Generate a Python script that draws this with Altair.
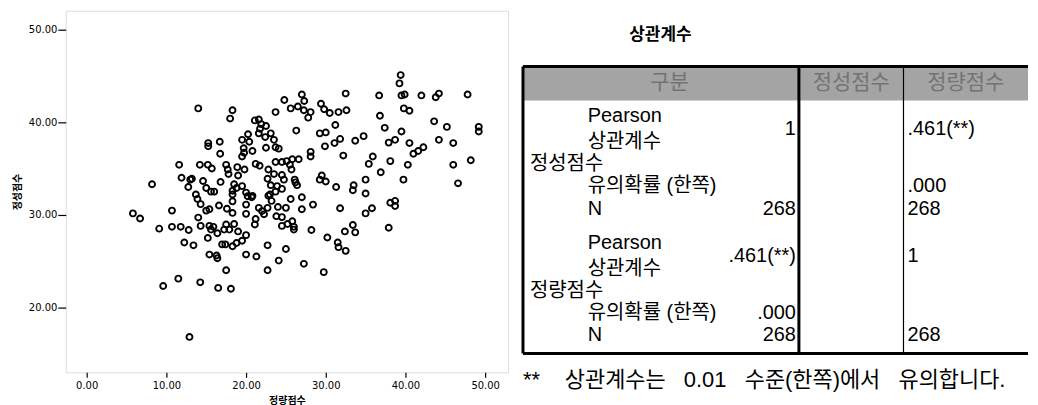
import altair as alt
import pandas as pd

# ---------------- scatter data ----------------
quant_x = [39.4, 39.25, 39.5, 39.9, 36.7, 42.0, 43.8, 44.2, 47.8, 32.5, 27.0, 24.8, 27.3, 25.6, 26.5, 27.25, 28.1, 27.8,
           23.7, 29.4, 29.8, 30.5, 31.6, 32.6, 36.8, 39.8, 40.5, 43.6, 45.2, 49.2, 49.2, 14.0, 18.3, 18.0, 21.1, 21.6,
           21.9, 22.5, 21.75, 31.2, 26.3, 37.4, 39.5, 29.25, 30.0, 21.6, 23.1, 20.25, 22.4, 23.5, 19.5, 20.4, 31.1,
           31.8, 33.7, 34.75, 37.9, 38.7, 40.5, 44.2, 46.0, 15.25, 15.25, 16.7, 29.9, 22.5, 23.7, 24.1, 19.7, 20.8,
           19.75, 19.5, 16.75, 28.1, 28.1, 42.25, 41.6, 41.0, 32.2, 35.9, 35.4, 38.1, 40.3, 46.0, 48.2, 36.9, 39.75,
           46.6, 25.1, 25.8, 26.6, 23.7, 24.5, 25.5, 25.7, 21.2, 21.7, 22.8, 11.6, 14.2, 15.2, 15.7, 17.5, 17.7, 18.9,
           19.8, 19.0, 17.8, 11.9, 13.0, 13.2, 14.6, 16.8, 15.0, 15.6, 16.0, 8.2, 12.75, 13.7, 13.9, 18.5, 18.8, 18.3,
           19.5, 20.0, 20.8, 22.7, 23.5, 24.5, 24.75, 23.1, 23.9, 24.5, 23.0, 23.7, 26.1, 26.2, 26.4, 29.5, 29.25,
           30.0, 31.3, 33.5, 33.4, 35.0, 35.0, 25.6, 27.0, 38.7, 38.1,
           14.3, 18.3, 20.2, 20.7, 20.0, 18.3, 22.8, 23.2, 16.6, 17.6, 18.3, 15.4, 15.0, 20.0, 21.2, 21.1, 21.6, 22.0,
           22.25, 22.7, 24.0, 25.0, 23.8, 24.5, 25.8, 24.5, 25.2, 26.0, 26.0, 27.0, 28.4, 31.8, 35.8, 35.0, 38.7,
           5.8, 6.7, 10.7, 9.1, 10.7, 11.8, 12.8, 14.0, 14.3, 15.4, 15.9, 15.6, 16.4, 15.2, 17.5, 18.5, 17.25, 17.9,
           19.0, 20.0, 19.5, 18.8, 18.3, 17.0, 17.4, 12.25, 13.4, 15.4, 16.3, 16.4, 20.0, 21.3, 22.7, 25.0, 24.1,
           22.7, 27.25, 29.75, 28.2, 30.2, 31.5, 31.6, 32.5, 32.4, 33.4, 33.7, 37.9, 17.5, 11.5, 9.6, 14.25, 16.5,
           18.1, 12.9]
qual_y = [45.1, 44.2, 42.9, 43.0, 42.9, 42.9, 42.7, 43.1, 43.0, 43.1, 43.0, 42.4, 42.3, 41.5, 41.7, 41.3, 41.1, 40.5,
          41.1, 42.0, 41.4, 41.0, 41.1, 41.3, 40.7, 41.5, 41.25, 40.1, 39.5, 39.5, 39.0, 41.5, 41.3, 40.4, 40.2, 40.3,
          39.8, 39.6, 39.3, 39.7, 39.1, 39.4, 39.0, 38.8, 38.9, 38.8, 38.8, 38.7, 38.4, 38.1, 38.1, 37.9, 37.75,
          38.2, 38.0, 38.5, 37.8, 38.1, 37.75, 38.1, 37.75, 37.75, 37.4, 37.9, 37.4, 37.25, 37.3, 37.15, 37.2, 36.9,
          36.7, 36.3, 36.6, 36.8, 36.3, 37.3, 36.9, 36.6, 36.4, 36.3, 35.5, 35.8, 35.4, 35.4, 35.9, 34.6, 33.8,
          33.4, 35.8, 36.0, 36.0, 35.7, 35.7, 35.4, 34.9, 35.5, 35.3, 34.9, 35.4, 35.4, 35.4, 35.0, 35.4, 34.9, 35.15,
          34.9, 34.25, 34.4, 34.0, 33.8, 33.9, 33.65, 33.55, 32.9, 32.5, 32.5, 33.3, 33.0, 32.2, 31.7, 33.3, 32.9, 32.6,
          33.1, 32.4, 32.05, 33.9, 34.4, 34.3, 33.8, 33.2, 33.1, 32.8, 32.2, 32.5, 33.8, 33.5, 33.2, 34.25, 33.8,
          33.6, 33.0, 33.2, 32.65, 33.8, 32.3, 31.7, 31.9, 31.5, 31.3,
          31.15, 32.2, 32.0, 31.9, 31.1, 31.45, 32.05, 31.5, 31.0, 30.65, 30.2, 30.6, 30.45, 30.1, 29.55, 28.95, 30.75, 30.4,
          30.05, 30.75, 30.85, 30.75, 29.85, 29.75, 29.3, 28.8, 29.0, 28.7, 28.4, 30.6, 31.1, 30.7, 30.7, 30.15, 30.95,
          30.15, 29.6, 30.45, 28.5, 28.7, 28.7, 28.35, 29.7, 28.8, 28.8, 28.7, 28.4, 28.0, 27.5, 28.95, 29.0, 28.4, 28.4,
          28.2, 27.8, 27.2, 26.95, 26.6, 26.8, 26.8, 27.0, 26.7, 25.7, 25.6, 25.3, 25.7, 25.5, 26.7, 26.3, 25.05,
          24.0, 24.7, 23.8, 28.35, 27.55, 27.0, 26.5, 26.1, 28.2, 28.9, 28.1, 28.6, 24.0, 23.1, 22.3, 22.7, 22.1,
          22.0, 16.8]
x_ticks = [0, 10, 20, 30, 40, 50]
y_ticks = [20, 30, 40, 50]
x_title = "정량점수"
y_title = "정성점수"

# ---------------- correlation table (text content) ----------------
table_title = "상관계수"
header_labels = ["구분", "정성점수", "정량점수"]
var_names = ["정성점수", "정량점수"]
stat_lines = ["Pearson", "상관계수", "유의확률 (한쪽)", "N"]
col_qual = ["1", "", "268", ".461(**)", ".000", "268"]
col_quant = [".461(**)", ".000", "268", "1", "", "268"]
footnote_mark = "**"
footnote_words = ["상관계수는", "0.01", "수준(한쪽)에서", "유의합니다."]

FONT = "Liberation Sans, Noto Sans CJK KR, sans-serif"
GAP = "\u00a0\u00a0 "   # the footnote's wide word gaps
footnote_text = GAP.join(footnote_words)

# ---------------- scatter ----------------
pts = pd.DataFrame({"qx": quant_x, "qy": qual_y})
scatter = alt.Chart(pts).mark_point(
    shape="circle", filled=False, color="black", size=36, strokeWidth=1.9, opacity=1
).encode(
    x=alt.X("qx:Q", scale=alt.Scale(domain=[-2.625, 52.875], nice=False, zero=False),
            axis=alt.Axis(values=x_ticks, format=".2f", title=x_title, grid=False, domain=False,
                          tickSize=5, tickColor="black", tickWidth=1.2, labelPadding=3,
                          labelFont="DejaVu Sans", labelFontSize=10, labelColor="black",
                          titleFont="Noto Sans CJK KR", titleFontSize=10, titleFontWeight="bold",
                          titleColor="black", titlePadding=5)),
    y=alt.Y("qy:Q", scale=alt.Scale(domain=[12.97, 52.05], nice=False, zero=False),
            axis=alt.Axis(values=y_ticks, format=".2f", title=y_title, grid=False, domain=False,
                          tickSize=8, tickColor="black", tickWidth=1.2, labelPadding=1,
                          labelFont="DejaVu Sans", labelFontSize=10, labelColor="black",
                          titleFont="Noto Sans CJK KR", titleFontSize=10, titleFontWeight="bold",
                          titleColor="black", titlePadding=6)),
).properties(width=444, height=363)

# ---------------- table layout (positions in panel units) ----------------
PW, PH = 515, 390
L, S1, S2, R = 8, 285, 390, 515
HT, HB = 56, 90
BLOCK = 127
label_x, stat_x, v1_right, v2_left = 15, 73, 282, 394
stat_off = [16, 42, 86, 109]
val_off = [29, 86, 109]
label_off = 64

X = alt.X("x:Q", scale=alt.Scale(domain=[0, PW], nice=False, zero=False), axis=None)
Y = alt.Y("y:Q", scale=alt.Scale(domain=[0, PH], nice=False, zero=False, reverse=True), axis=None)

left_rows, right_rows, center_rows, foot_rows = [], [], [], []
for b, name in enumerate(var_names):
    top = HB + b * BLOCK
    left_rows.append({"x": label_x, "y": top + label_off, "t": name})
    for k, s in enumerate(stat_lines):
        left_rows.append({"x": stat_x, "y": top + stat_off[k], "t": s})
    for k in range(3):
        right_rows.append({"x": v1_right, "y": top + val_off[k], "t": col_qual[b * 3 + k]})
        left_rows.append({"x": v2_left, "y": top + val_off[k], "t": col_quant[b * 3 + k]})
foot_rows.append({"x": L, "y": 371, "t": footnote_mark})
foot_rows.append({"x": 50, "y": 371, "t": footnote_text})
hdr_centers = [155, (S1 + S2) / 2, (S2 + R) / 2]
for c, h in zip(hdr_centers, header_labels):
    center_rows.append({"x": c, "y": (HT + HB) / 2, "t": h})

bottom = HB + 2 * BLOCK
header_df = pd.DataFrame([{"x": L, "x2": R, "y": HT, "y2": HB}])
rules_df = pd.DataFrame([
    {"x": L, "x2": R, "y": HT, "y2": HT, "w": 3},
    {"x": L, "x2": R, "y": bottom, "y2": bottom, "w": 3},
    {"x": L, "x2": L, "y": HT, "y2": bottom, "w": 3},
    {"x": S1, "x2": S1, "y": HT, "y2": bottom, "w": 3},
    {"x": S2, "x2": S2, "y": HT, "y2": bottom, "w": 1.2},
])

header = alt.Chart(header_df).mark_rect(color="#a4a4a4").encode(
    x=X, x2="x2:Q", y=Y, y2="y2:Q")
rules = alt.Chart(rules_df).mark_rule(color="black").encode(
    x=X, x2="x2:Q", y=Y, y2="y2:Q", strokeWidth=alt.StrokeWidth("w:Q", scale=None))
txt_left = alt.Chart(pd.DataFrame(left_rows)).mark_text(
    align="left", baseline="middle", font=FONT, fontSize=20, color="black").encode(x=X, y=Y, text="t:N")
txt_right = alt.Chart(pd.DataFrame(right_rows)).mark_text(
    align="right", baseline="middle", font=FONT, fontSize=20, color="black").encode(x=X, y=Y, text="t:N")
txt_foot = alt.Chart(pd.DataFrame(foot_rows)).mark_text(
    align="left", baseline="middle", font=FONT, fontSize=22, color="black").encode(x=X, y=Y, text="t:N")
txt_hdr = alt.Chart(pd.DataFrame(center_rows)).mark_text(
    align="center", baseline="middle", font=FONT, fontSize=21, color="#737373").encode(x=X, y=Y, text="t:N")
txt_title = alt.Chart(pd.DataFrame([{"x": 146, "y": 24, "t": table_title}])).mark_text(
    align="center", baseline="middle", font=FONT, fontSize=17, fontWeight="bold", color="black"
).encode(x=X, y=Y, text="t:N")

table = alt.layer(header, rules, txt_left, txt_right, txt_foot, txt_hdr, txt_title).properties(
    width=PW, height=PH, view=alt.ViewBackground(stroke="transparent"))

chart = alt.hconcat(scatter, table, spacing=5).properties(
    padding={"left": 3, "top": 1, "right": 0, "bottom": 0}
).configure_view(stroke="black", strokeWidth=1.5).configure(background="white")

chart.save("out.html", embed_options={"renderer": "svg", "actions": False})
